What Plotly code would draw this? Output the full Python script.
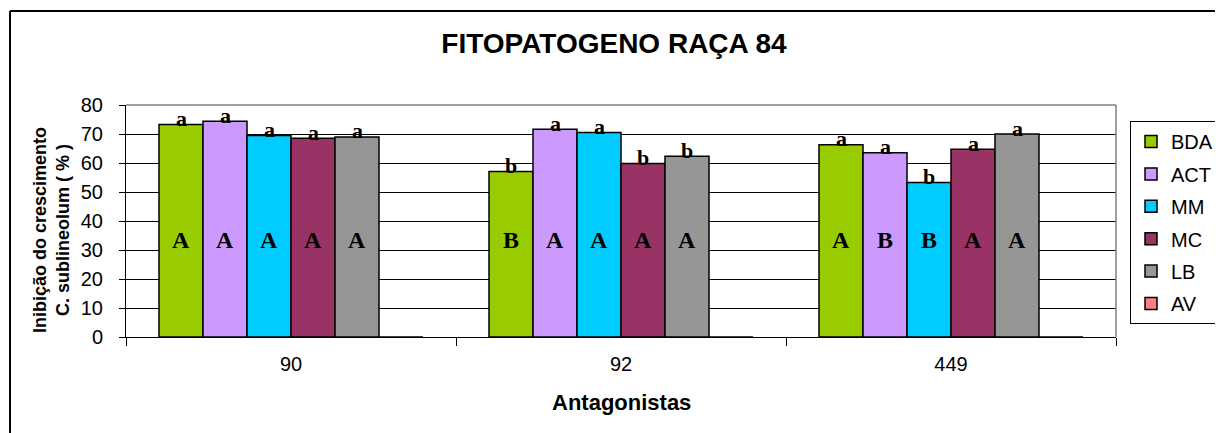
import plotly.graph_objects as go

# ---- data ----
categories = ["90", "92", "449"]
series_names = ["BDA", "ACT", "MM", "MC", "LB", "AV"]
BDA = [73.3, 57.1, 66.3]
ACT = [74.4, 71.6, 63.5]
MM = [69.5, 70.5, 53.3]
MC = [68.5, 59.8, 64.7]
LB = [69.0, 62.3, 70.0]
AV = [0, 0, 0]
lower_letters = {
    "BDA": ["a", "b", "a"],
    "ACT": ["a", "a", "a"],
    "MM": ["a", "a", "b"],
    "MC": ["a", "b", "a"],
    "LB": ["a", "b", "a"],
}
upper_letters = {
    "BDA": ["A", "B", "A"],
    "ACT": ["A", "A", "B"],
    "MM": ["A", "A", "B"],
    "MC": ["A", "A", "A"],
    "LB": ["A", "A", "A"],
}
upper_letter_y = 33.5
title_text = "FITOPATOGENO RAÇA 84"
y_title = "Inibição do crescimento<br>C. sublineolum ( % )"
x_title = "Antagonistas"

values = {"BDA": BDA, "ACT": ACT, "MM": MM, "MC": MC, "LB": LB, "AV": AV}
colors = {"BDA": "#99CC00", "ACT": "#CC99FF", "MM": "#00CCFF",
          "MC": "#993366", "LB": "#969696", "AV": "#FF8080"}

# page body has an 8px margin; work in screen pixels and convert
OFF = 8
W, H = 1223 - OFF, 433 - OFF
L, R, T, B = 126, 1116, 105, 337          # plot area in screen pixels
pw, ph = R - L, B - T


def px2x(px):
    return (px - L) / pw


def py2y(py):
    return (B - py) / ph


SANS = "Liberation Sans, Arial, sans-serif"
SERIF = "Liberation Serif, Times New Roman, serif"

fig = go.Figure()
for i, name in enumerate(series_names):
    fig.add_trace(go.Bar(
        x=categories, y=values[name], name=name,
        marker=dict(color=colors[name], line=dict(color="black", width=1.5)),
        legendgroup=name,
    ))

n = len(series_names)
group_w = 0.8
annotations = []
for i, name in enumerate(series_names):
    if name not in lower_letters:
        continue
    for c in range(len(categories)):
        xc = c - group_w / 2 + (i + 0.5) * group_w / n
        annotations.append(dict(
            x=xc, y=values[name][c], xref="x", yref="y",
            text="<b>%s</b>" % lower_letters[name][c], showarrow=False,
            yanchor="middle", yshift=6,
            font=dict(family=SERIF, size=22, color="black")))
        annotations.append(dict(
            x=xc, y=upper_letter_y, xref="x", yref="y",
            text="<b>%s</b>" % upper_letters[name][c], showarrow=False,
            yanchor="middle",
            font=dict(family=SERIF, size=24, color="black")))

annotations.append(dict(
    x=px2x(51), y=py2y(230), xref="paper", yref="paper",
    text="<b>%s</b>" % y_title, textangle=-90, showarrow=False,
    xanchor="center", yanchor="middle",
    font=dict(family=SANS, size=18, color="black")))
annotations.append(dict(
    x=px2x(621), y=py2y(402), xref="paper", yref="paper",
    text="<b>%s</b>" % x_title, showarrow=False,
    xanchor="center", yanchor="middle",
    font=dict(family=SANS, size=22, color="black")))

shapes = [
    # outer chart border
    dict(type="line", xref="paper", yref="paper", x0=px2x(10), x1=px2x(10),
         y0=py2y(11), y1=py2y(440), line=dict(color="black", width=2)),
    dict(type="line", xref="paper", yref="paper", x0=px2x(10), x1=px2x(1221),
         y0=py2y(11), y1=py2y(11), line=dict(color="black", width=2)),
    dict(type="line", xref="paper", yref="paper", x0=px2x(1221), x1=px2x(1221),
         y0=py2y(11), y1=py2y(440), line=dict(color="black", width=2)),
    # plot area border (top and right, gray)
    dict(type="line", xref="paper", yref="paper", x0=0, x1=1, y0=1, y1=1,
         line=dict(color="#808080", width=1.5)),
    dict(type="line", xref="paper", yref="paper", x0=1, x1=1, y0=0, y1=1,
         line=dict(color="#808080", width=1.5)),
]

fig.update_layout(
    width=W, height=H,
    margin=dict(l=L - OFF, r=W - (R - OFF), t=T - OFF, b=H - (B - OFF),
                autoexpand=False),
    paper_bgcolor="white", plot_bgcolor="white",
    barmode="group", bargap=0.2, bargroupgap=0,
    title=dict(text="<b>%s</b>" % title_text, x=(614 - OFF) / W,
               xanchor="center", y=1 - (43 - OFF) / H, yanchor="middle",
               font=dict(family=SANS, size=28, color="black")),
    xaxis=dict(type="category", range=[-0.5, 2.5], showline=True,
               linecolor="black", linewidth=1, ticks="outside",
               tickson="boundaries", ticklen=8, tickcolor="black",
               showgrid=False, tickfont=dict(family=SANS, size=20, color="black"),
               ticklabelstandoff=9),
    yaxis=dict(range=[0, 80], dtick=10, showline=True, linecolor="black",
               linewidth=1, ticks="outside", ticklen=6, tickcolor="black",
               showgrid=True, gridcolor="black", gridwidth=1, zeroline=False,
               tickfont=dict(family=SANS, size=20, color="black"),
               ticklabelstandoff=12),
    legend=dict(x=px2x(1130), xanchor="left", y=py2y(121), yanchor="top",
                bordercolor="black", borderwidth=1, bgcolor="white",
                font=dict(family=SANS, size=20, color="black"),
                tracegroupgap=3.4, traceorder="grouped"),
    annotations=annotations,
    shapes=shapes,
)

fig.write_html("out.html")
